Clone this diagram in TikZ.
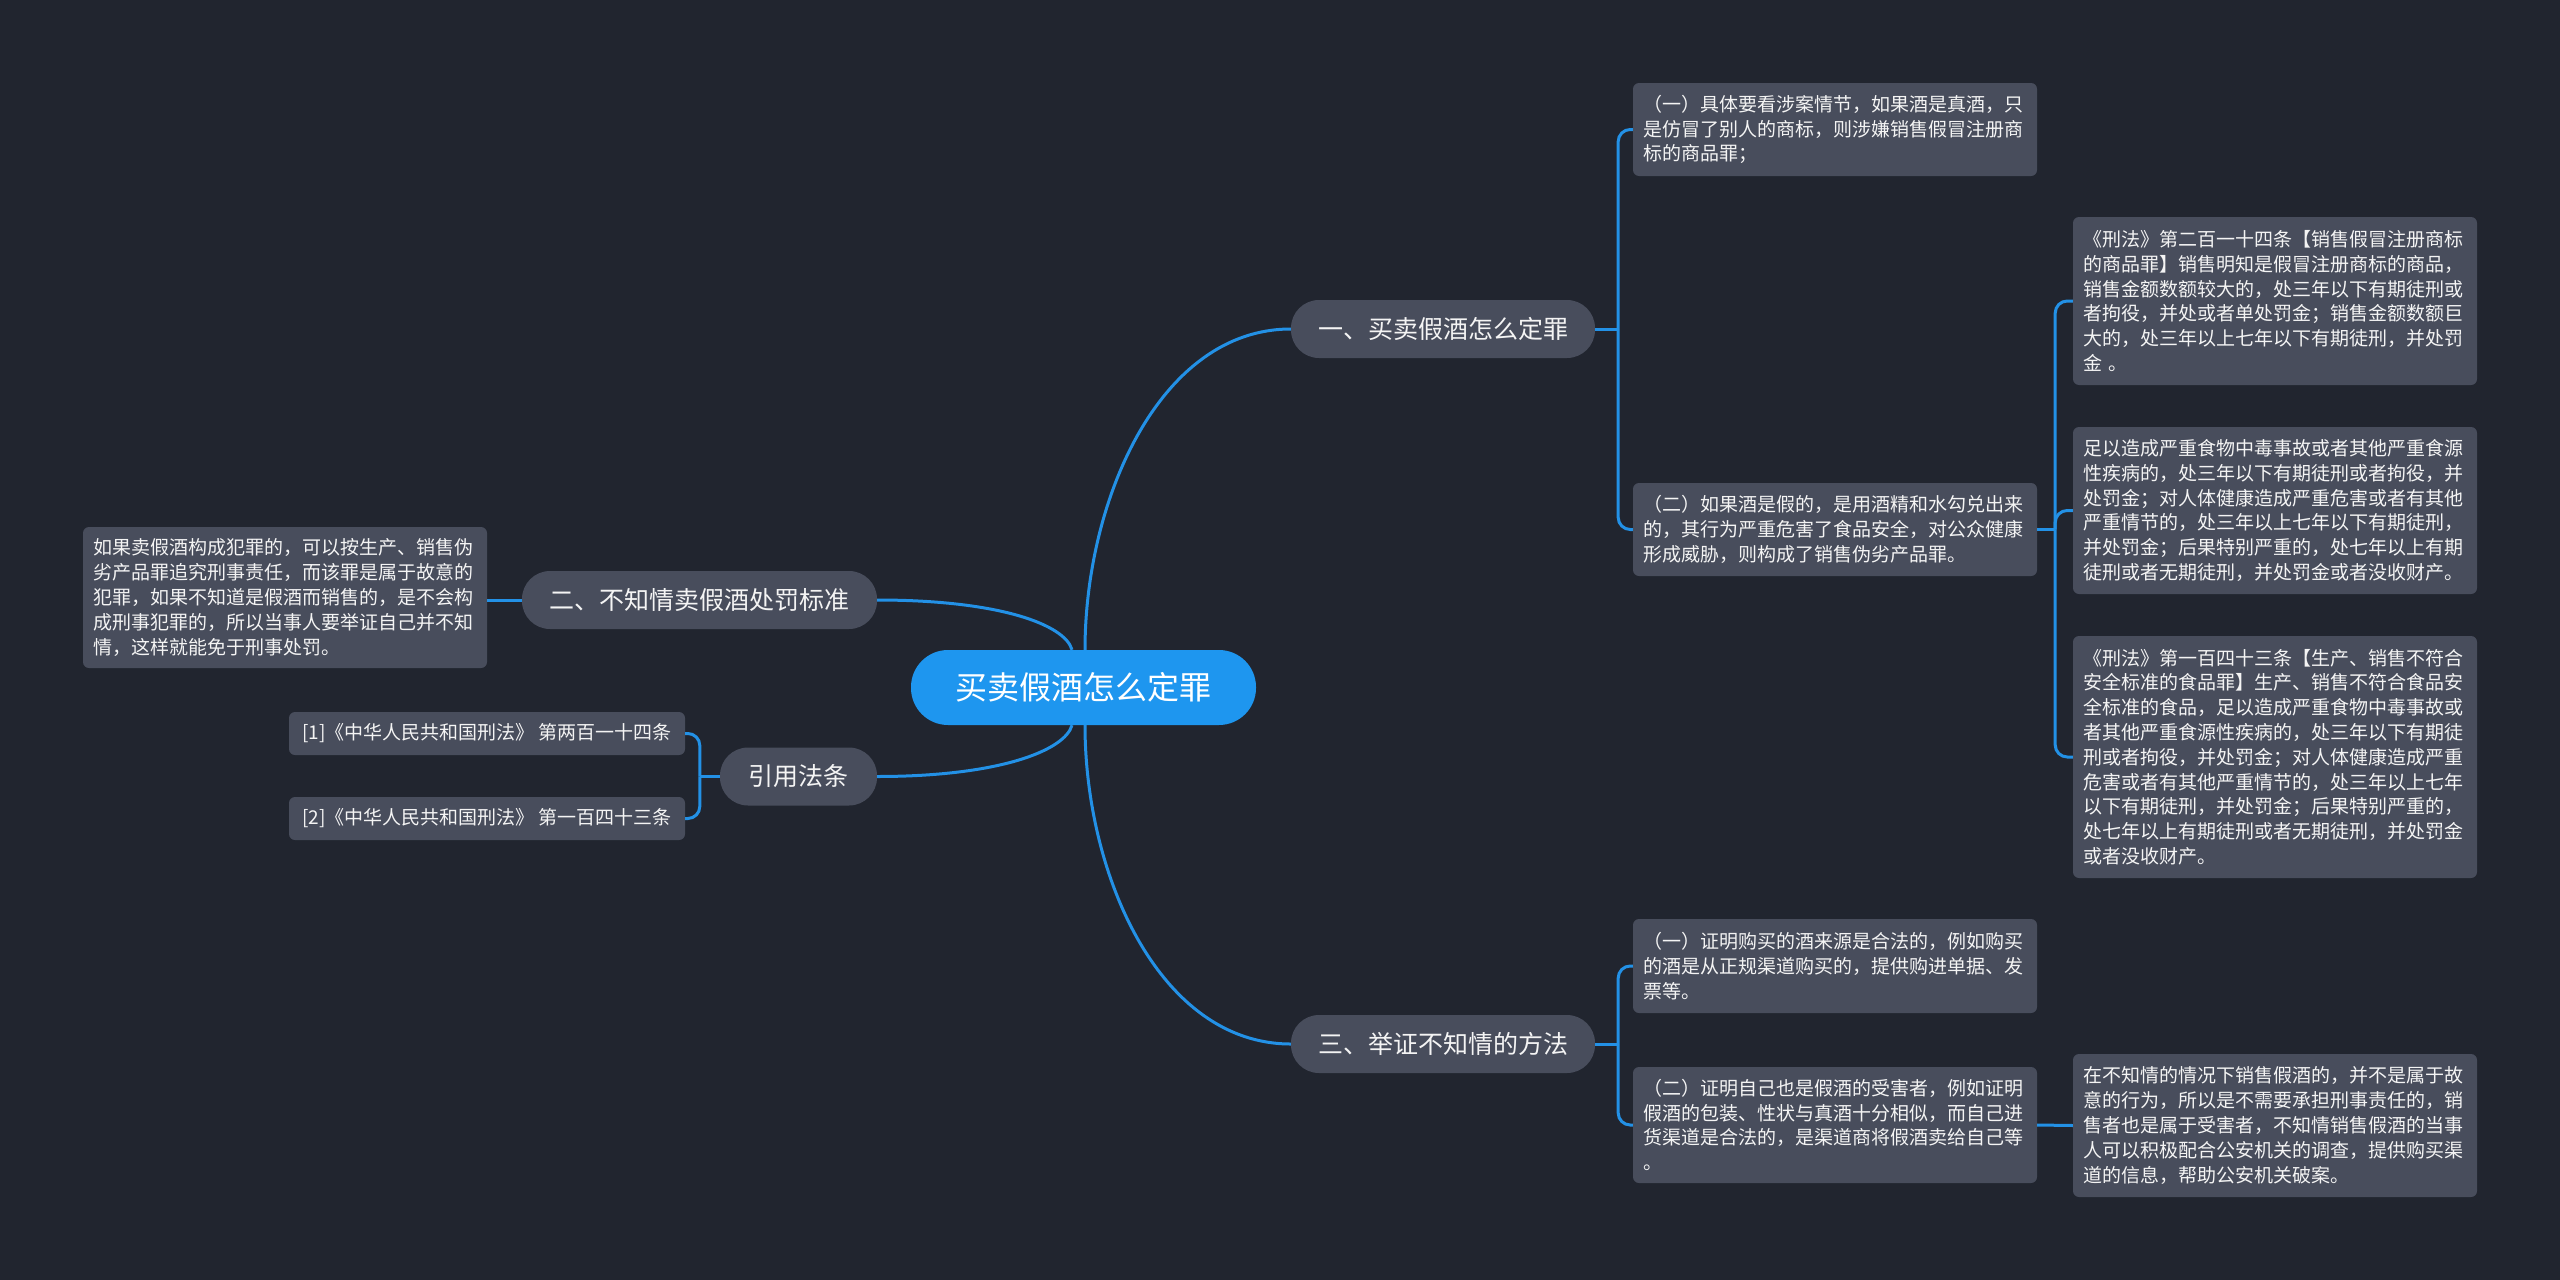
\documentclass[tikz,border=0pt]{standalone}
\usepackage{fontspec}
\setmainfont{Noto Sans CJK SC}
\definecolor{bgc}{HTML}{21252F}
\definecolor{boxc}{HTML}{484D5C}
\definecolor{rootc}{HTML}{1E96EF}
\definecolor{linec}{HTML}{2391E6}
\definecolor{txtc}{HTML}{F4F4F4}
\begin{document}
\begin{tikzpicture}[x=1pt,y=-1pt,
  rootbox/.style={fill=rootc,text=white,rounded corners=37pt,minimum width=345pt,minimum height=75pt,inner sep=0pt,font=\fontsize{32}{38}\selectfont},
  branchbox/.style={fill=boxc,text=txtc,rounded corners=28pt,minimum height=58pt,inner sep=0pt,font=\fontsize{25}{30}\selectfont},
  leafbox/.style={fill=boxc,text=txtc,rounded corners=6pt,text width=384pt,inner xsep=10pt,inner ysep=0pt,align=left,font=\fontsize{19}{24.8}\selectfont},
  refbox/.style={fill=boxc,text=txtc,rounded corners=6pt,minimum width=396pt,minimum height=43pt,inner sep=0pt,font=\fontsize{19}{24}\selectfont},
  conn/.style={draw=linec,line width=3pt},
  fork/.style={draw=linec,line width=3pt,rounded corners=12pt}]
\fill[bgc] (0,0) rectangle (2560,1280);
\useasboundingbox (0,0) rectangle (2560,1280);

% connectors first (under nodes) -- coordinates via nodes defined later need nodes first
\begin{scope}[on background layer/.style={}]
\end{scope}

% nodes
\node[rootbox] (root) at (1083.5,687.5) {买卖假酒怎么定罪};
\node[branchbox,minimum width=304pt] (B1) at (1443,329) {一、买卖假酒怎么定罪};
\node[branchbox,minimum width=355pt] (B2) at (699.5,600) {二、不知情卖假酒处罚标准};
\node[branchbox,minimum width=157pt] (B3) at (798.5,776.5) {引用法条};
\node[branchbox,minimum width=304pt] (B4) at (1443,1044) {三、举证不知情的方法};

\node[leafbox,minimum height=93pt] (L1a) at (1835,129.5) {（一）具体要看涉案情节，如果酒是真酒，只\\是仿冒了别人的商标，则涉嫌销售假冒注册商\\标的商品罪；};
\node[leafbox,minimum height=93pt] (L1b) at (1835,529.5) {（二）如果酒是假的，是用酒精和水勾兑出来\\的，其行为严重危害了食品安全，对公众健康\\形成威胁，则构成了销售伪劣产品罪。};
\node[leafbox,minimum height=168pt] (L3a) at (2275,301) {《刑法》第二百一十四条【销售假冒注册商标\\的商品罪】销售明知是假冒注册商标的商品，\\销售金额数额较大的，处三年以下有期徒刑或\\者拘役，并处或者单处罚金；销售金额数额巨\\大的，处三年以上七年以下有期徒刑，并处罚\\金 。};
\node[leafbox,minimum height=167pt] (L3b) at (2275,510.5) {足以造成严重食物中毒事故或者其他严重食源\\性疾病的，处三年以下有期徒刑或者拘役，并\\处罚金；对人体健康造成严重危害或者有其他\\严重情节的，处三年以上七年以下有期徒刑，\\并处罚金；后果特别严重的，处七年以上有期\\徒刑或者无期徒刑，并处罚金或者没收财产。};
\node[leafbox,minimum height=242pt] (L3c) at (2275,757) {《刑法》第一百四十三条【生产、销售不符合\\安全标准的食品罪】生产、销售不符合食品安\\全标准的食品，足以造成严重食物中毒事故或\\者其他严重食源性疾病的，处三年以下有期徒\\刑或者拘役，并处罚金；对人体健康造成严重\\危害或者有其他严重情节的，处三年以上七年\\以下有期徒刑，并处罚金；后果特别严重的，\\处七年以上有期徒刑或者无期徒刑，并处罚金\\或者没收财产。};
\node[leafbox,minimum height=94pt] (L2a) at (1835,966) {（一）证明购买的酒来源是合法的，例如购买\\的酒是从正规渠道购买的，提供购进单据、发\\票等。};
\node[leafbox,minimum height=116pt] (L2b) at (1835,1125) {（二）证明自己也是假酒的受害者，例如证明\\假酒的包装、性状与真酒十分相似，而自己进\\货渠道是合法的，是渠道商将假酒卖给自己等\\。};
\node[leafbox,minimum height=143pt] (L2c) at (2275,1125.5) {在不知情的情况下销售假酒的，并不是属于故\\意的行为，所以是不需要承担刑事责任的，销\\售者也是属于受害者，不知情销售假酒的当事\\人可以积极配合公安机关的调查，提供购买渠\\道的信息，帮助公安机关破案。};
\node[leafbox,minimum height=141pt] (LL) at (285,597.5) {如果卖假酒构成犯罪的，可以按生产、销售伪\\劣产品罪追究刑事责任，而该罪是属于故意的\\犯罪，如果不知道是假酒而销售的，是不会构\\成刑事犯罪的，所以当事人要举证自己并不知\\情，这样就能免于刑事处罚。};
\node[refbox] (R1) at (487,733.5) {[1]《中华人民共和国刑法》 第两百一十四条};
\node[refbox] (R2) at (487,818.5) {[2]《中华人民共和国刑法》 第一百四十三条};

% root connectors
\draw[conn] ([xshift=1.5pt]root.north) .. controls +(0,-150) and +(-131,0) .. (B1.west);
\draw[conn] ([xshift=1.5pt]root.south) .. controls +(0,150) and +(-131,0) .. (B4.west);
\draw[conn] (B2.east) .. controls +(123,0) and +(-7,-25) .. ([xshift=-11.5pt]root.north);
\draw[conn] (B3.east) .. controls +(123,0) and +(-7,25) .. ([xshift=-11.5pt]root.south);

% branch 1 fork
\draw[conn] (B1.east) -- ++(23,0);
\draw[fork] ([xshift=23pt]B1.east) |- (L1a.west);
\draw[fork] ([xshift=23pt]B1.east) |- (L1b.west);
% L1b fork
\draw[conn] (L1b.east) -- ++(18,0);
\draw[fork] ([xshift=18pt]L1b.east) |- (L3a.west);
\draw[fork] ([xshift=18pt]L1b.east) |- (L3b.west);
\draw[fork] ([xshift=18pt]L1b.east) |- (L3c.west);
% branch 4 fork
\draw[conn] (B4.east) -- ++(23,0);
\draw[fork] ([xshift=23pt]B4.east) |- (L2a.west);
\draw[fork] ([xshift=23pt]B4.east) |- (L2b.west);
\draw[conn] (L2b.east) -- (L2c.west);
% left side
\draw[conn] (B2.west) -- (B2.west -| LL.east);
\draw[conn] (B3.west) -- ++(-20,0);
\draw[fork] ([xshift=-20pt]B3.west) |- (R1.east);
\draw[fork] ([xshift=-20pt]B3.west) |- (R2.east);
\end{tikzpicture}
\end{document}
